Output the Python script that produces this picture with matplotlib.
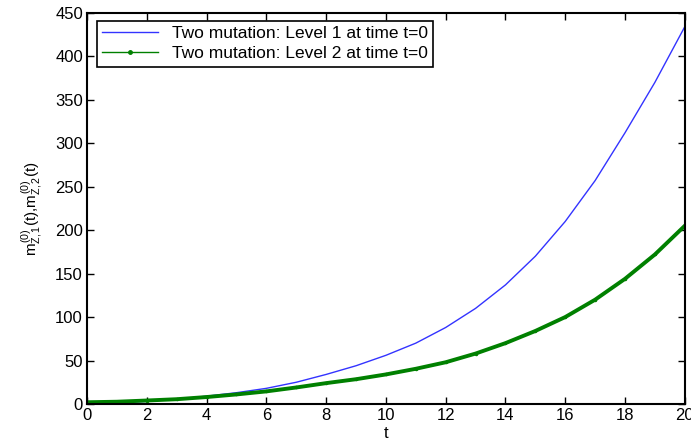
import matplotlib.pyplot as plt

plt.rcParams['font.family'] = ['Liberation Sans', 'DejaVu Sans']
plt.rcParams['mathtext.fontset'] = 'custom'
plt.rcParams['mathtext.rm'] = 'Liberation Sans'
plt.rcParams['mathtext.it'] = 'Liberation Sans'

t = list(range(0, 21))
level1 = [0.5, 1.5, 3, 5.5, 9, 13, 18, 25, 34, 44, 56, 70, 88, 110, 137,
          170, 210, 257, 312, 370, 434]
level2 = [2, 2.6, 4, 5.5, 8, 11, 14.5, 19, 24, 28.5, 34, 40.5, 48, 58, 70,
          84, 100, 120, 144, 172, 205]

labels = ["Two mutation: Level 1 at time t=0",
          "Two mutation: Level 2 at time t=0"]


def main():
    fig = plt.figure(figsize=(6.91, 4.42), dpi=100)
    ax = fig.add_axes([0.126, 0.086, 0.865, 0.885])

    ax.plot(t, level1, color='#3333ff', lw=1.0, label=labels[0])
    ax.plot(t, level2, color='#008000', lw=2.8, marker='.', markersize=3,
            label=labels[1])

    ax.set_xlim(0, 20)
    ax.set_ylim(0, 450)
    ax.set_xticks(range(0, 21, 2))
    ax.set_yticks(range(0, 451, 50))
    ax.tick_params(direction='in', top=True, right=True, labelsize=12,
                   length=5, width=1, pad=3)
    for s in ax.spines.values():
        s.set_linewidth(1.5)

    ax.set_xlabel("t", fontsize=12, labelpad=2)
    ax.set_ylabel(r"$m^{(0)}_{Z,1}(t){,}m^{(0)}_{Z,2}(t)$", fontsize=11,
                  labelpad=8)

    leg = ax.legend(loc='upper left', fontsize=12.5, fancybox=False,
                    edgecolor='black', framealpha=1, borderpad=0.3,
                    handlelength=3.2, labelspacing=0.3, numpoints=1,
                    borderaxespad=0, bbox_to_anchor=(0.017, 0.98))
    leg.get_frame().set_linewidth(1.2)
    leg.get_lines()[1].set_linewidth(1.0)
    leg.get_lines()[1].set_markersize(5)

    fig.savefig("out.png", dpi=100)


if __name__ == '__main__':
    main()
